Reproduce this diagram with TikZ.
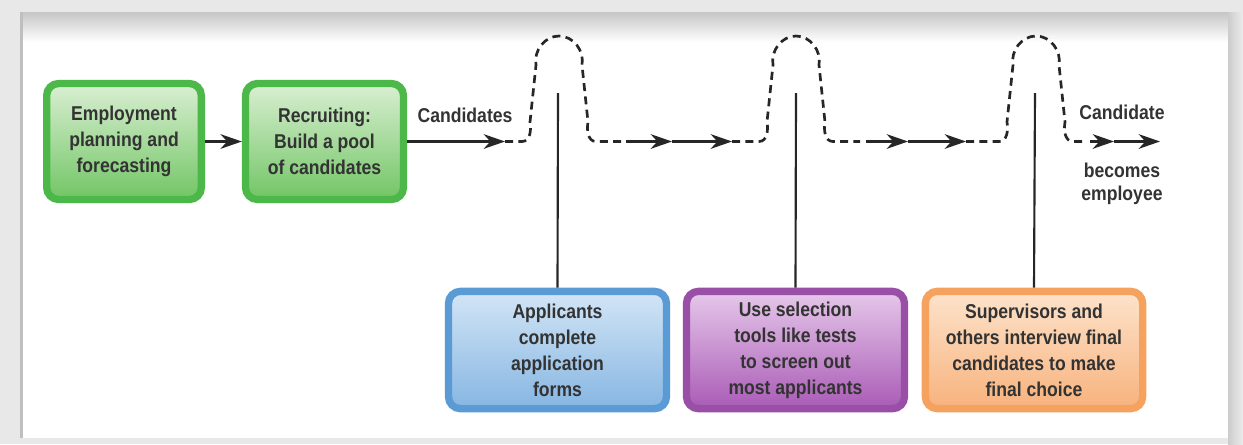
\documentclass[tikz,border=0pt]{standalone}
\usepackage{fontspec}
\setmainfont{Liberation Sans}[FakeStretch=0.88]
\usetikzlibrary{arrows.meta}
\definecolor{txt}{HTML}{333333}
\definecolor{gborder}{HTML}{4DB84A}
\definecolor{gtop}{HTML}{D9EFD2}
\definecolor{gbot}{HTML}{72C565}
\definecolor{bborder}{HTML}{5B9BD5}
\definecolor{btop}{HTML}{D3E5F6}
\definecolor{bbot}{HTML}{86B6E2}
\definecolor{pborder}{HTML}{9A4FA6}
\definecolor{ptop}{HTML}{E6C8EA}
\definecolor{pbot}{HTML}{A95BB6}
\definecolor{oborder}{HTML}{F5A25E}
\definecolor{otop}{HTML}{FDE3CB}
\definecolor{obot}{HTML}{F7B27D}
\tikzset{
  boxbase/.style={rounded corners=9pt, line width=5.5pt, align=center, text=txt, inner sep=0pt,
    font=\bfseries\fontsize{15}{19.5}\selectfont},
  greenbox/.style={boxbase, draw=gborder, top color=gtop, bottom color=gbot, minimum height=87pt},
  bluebox/.style={boxbase, draw=bborder, top color=btop, bottom color=bbot, minimum width=163.5pt, minimum height=88pt},
  purplebox/.style={boxbase, draw=pborder, top color=ptop, bottom color=pbot, minimum width=163.5pt, minimum height=88pt},
  orangebox/.style={boxbase, draw=oborder, top color=otop, bottom color=obot, minimum width=163pt, minimum height=88pt},
  lbl/.style={align=center, text=txt, inner sep=0pt, font=\bfseries\fontsize{15}{17.5}\selectfont},
  arr/.style={line width=1.6pt, draw=black!85, -{Stealth[length=16pt,width=11pt,inset=5pt]}},
  dsh/.style={line width=2pt, draw=black!85, dash pattern=on 6pt off 4pt},
  vline/.style={line width=1.6pt, draw=black!85}
}
\begin{document}
\begin{tikzpicture}[x=0.75pt,y=-0.75pt]
\useasboundingbox (0,0) rectangle (1243,444);
% frame
\fill[gray!18] (0,0) rectangle (1243,444);
\fill[white] (23,40) rectangle (1228,438);
\shade[top color=gray!45,bottom color=white] (23,12) rectangle (1228,42);
\fill[gray!50] (20,12) rectangle (23,438);
\shade[left color=gray!40,right color=gray!15] (1228,12) rectangle (1243,444);

% boxes
\node[greenbox, minimum width=116pt] (plan) at (124,141.5) {Employment\\planning and\\forecasting};
\node[greenbox, minimum width=118.5pt] (recr) at (324.5,141.5) {Recruiting:\\Build a pool\\of candidates};
\node[bluebox] (appl) at (557.5,350) {Applicants\\complete\\application\\forms};
\node[purplebox] (sel) at (795.5,350) {Use selection\\tools like tests\\to screen out\\most applicants};
\node[orangebox] (intv) at (1034,350) {Supervisors and\\others interview final\\candidates to make\\final choice};

% labels
\node[lbl] (cands) at (465,115) {Candidates};
\node[lbl] (cand) at (1122,112) {Candidate};
\node[lbl] (becomes) at (1122,184) {becomes\\employee};

% coordinates
\coordinate (a1) at (505,141.5);
\coordinate (s1) at (626,141.5);
\coordinate (m1) at (672,141.5);
\coordinate (e1) at (732,141.5);
\coordinate (s2) at (866,141.5);
\coordinate (m2) at (908,141.5);
\coordinate (e2) at (966,141.5);
\coordinate (s3) at (1090,141.5);
\coordinate (m3) at (1114,141.5);
\coordinate (e3) at (1160,141.5);
\coordinate (v1) at (558,93);
\coordinate (v2) at (796,93);
\coordinate (v3) at (1035,93);

% connectors
\draw[arr] (plan.east) -- (recr.west);
\draw[arr] (recr.east) -- (a1);
\draw[dsh] (a1) -- (522,141.5) to[out=0,in=-80] ++(8,-19.5) -- ++(6,-57) to[out=100,in=180] ++(23,-29) to[out=0,in=80] ++(23,29) -- ++(6,57) to[out=-100,in=180] ++(8,19.5) -- (622,141.5);
\draw[arr] (s1) -- (m1);
\draw[arr] (m1) -- (e1);
\draw[dsh] (e1) -- (759,141.5) to[out=0,in=-80] ++(8,-19.5) -- ++(6,-57) to[out=100,in=180] ++(23,-29) to[out=0,in=80] ++(23,29) -- ++(6,57) to[out=-100,in=180] ++(8,19.5) -- (860,141.5);
\draw[arr] (s2) -- (m2);
\draw[arr] (m2) -- (e2);
\draw[dsh] (e2) -- (999,141.5) to[out=0,in=-80] ++(8,-19.5) -- ++(6,-57) to[out=100,in=180] ++(23,-29) to[out=0,in=80] ++(23,29) -- ++(6,57) to[out=-100,in=180] ++(8,19.5) -- (1086,141.5);
\draw[arr] (s3) -- (m3);
\draw[arr] (m3) -- (e3);
\draw[vline] (v1) -- (appl.north);
\draw[vline] (v2) -- (sel.north);
\draw[vline] (v3) -- (intv.north);
\end{tikzpicture}
\end{document}
